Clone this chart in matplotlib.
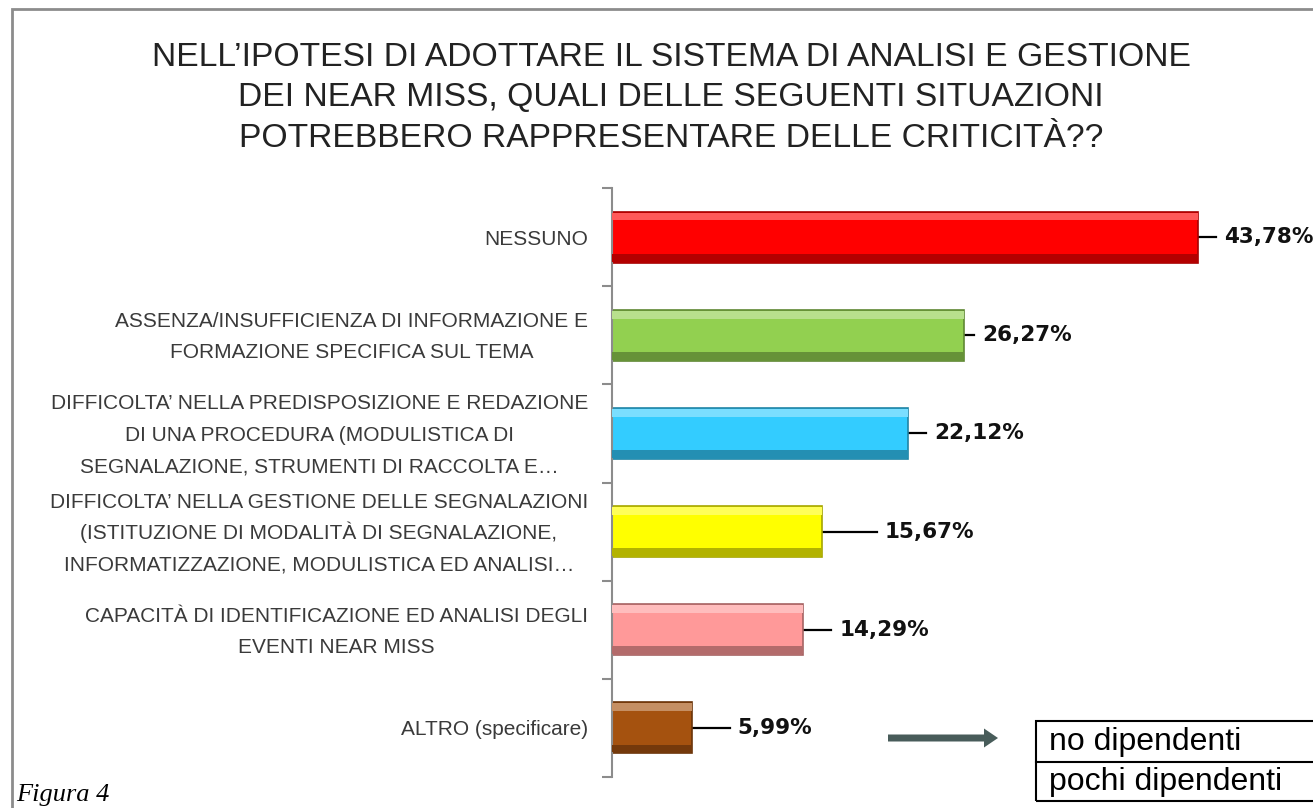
import matplotlib.pyplot as plt
import matplotlib.patches as mpatches
import matplotlib.colors as mcolors
import matplotlib.transforms as mtransforms
import numpy as np

# data
categories = [
    'NESSUNO',
    'ASSENZA/INSUFFICIENZA DI INFORMAZIONE E\nFORMAZIONE SPECIFICA SUL TEMA',
    'DIFFICOLTA\u2019 NELLA PREDISPOSIZIONE E REDAZIONE\nDI UNA PROCEDURA (MODULISTICA DI\nSEGNALAZIONE, STRUMENTI DI RACCOLTA E\u2026',
    'DIFFICOLTA\u2019 NELLA GESTIONE DELLE SEGNALAZIONI\n(ISTITUZIONE DI MODALIT\u00c0 DI SEGNALAZIONE,\nINFORMATIZZAZIONE, MODULISTICA ED ANALISI\u2026',
    'CAPACIT\u00c0 DI IDENTIFICAZIONE ED ANALISI DEGLI\nEVENTI NEAR MISS',
    'ALTRO (specificare)',
]
values = [43.78, 26.27, 22.12, 15.67, 14.29, 5.99]
bar_colors = ['#ff0000', '#92d050', '#33ccff', '#ffff00', '#ff9999', '#a5520f']
# leader-line length of each data label (Excel placed them by hand)
label_offsets = [1.9, 1.4, 1.95, 4.7, 2.7, 3.4]
table_rows = ['no dipendenti', 'pochi dipendenti']
title = ('NELL\u2019IPOTESI DI ADOTTARE IL SISTEMA DI ANALISI E GESTIONE\n'
         'DEI NEAR MISS, QUALI DELLE SEGUENTI SITUAZIONI\n'
         'POTREBBERO RAPPRESENTARE DELLE CRITICIT\u00c0??')

sans = ['Liberation Sans', 'DejaVu Sans']

W, H = 1313, 808
fig = plt.figure(figsize=(W / 100, H / 100), dpi=100)

# grey frame of the pasted chart (runs off the right and bottom edge)
fig.patches.append(mpatches.Rectangle((12 / W, -0.1), 1.2, 1 - 9 / H + 0.1,
                                      transform=fig.transFigure, fill=False,
                                      edgecolor='#8c8c8c', lw=2))

fig.text(671 / W, 1 - 98 / H, title, ha='center', va='center',
         fontsize=24.2, family=sans, linespacing=1.39, color='#222222')

ax = fig.add_axes([612 / W, 31 / H, 669.5 / W, 589 / H])
y = np.arange(len(values))

def shade(c, f):
    r = np.array(mcolors.to_rgb(c))
    if f > 0:
        return tuple(r + (1 - r) * f)
    return tuple(r * (1 + f))

h = 0.52
ax.barh(y, values, height=h, color=bar_colors,
        edgecolor=[shade(c, -0.35) for c in bar_colors], lw=1.2, zorder=2)
# bevel: light strip on top, dark strip at bottom
ax.barh(y - h / 2 + 0.05, values, height=0.08,
        color=[shade(c, 0.35) for c in bar_colors], lw=0, zorder=3)
ax.barh(y + h / 2 - 0.05, values, height=0.08,
        color=[shade(c, -0.3) for c in bar_colors], lw=0, zorder=3)

for yi, v, off in zip(y, values, label_offsets):
    ax.plot([v, v + off - 0.6], [yi, yi], color='black', lw=1.6, zorder=1)
    ax.text(v + off, yi, f'{v:.2f}%'.replace('.', ','), ha='left', va='center',
            fontsize=15.5, fontweight='bold', color='#111111')

ax.set_xlim(0, 50)
ax.set_ylim(len(values) - 0.5, -0.5)
ax.set_xticks([])
ax.set_yticks(y)
ax.set_yticklabels([])
ax.tick_params(axis='y', which='major', length=0)
ax.set_yticks(np.arange(len(values) + 1) - 0.5, minor=True)
ax.tick_params(axis='y', which='minor', length=7, width=1.5, color='#8c8c8c')
for s in ['top', 'right', 'bottom']:
    ax.spines[s].set_visible(False)
ax.spines['left'].set_color('#8c8c8c')
ax.spines['left'].set_linewidth(1.5)

# category labels: one text per line so accented lines keep even spacing,
# each block centred and right-aligned next to the axis
renderer = fig.canvas.get_renderer()
line_step = 31.5
for yi, cat in zip(y, categories):
    lines = cat.split('\n')
    n = len(lines)
    texts = []
    for j, ln in enumerate(lines):
        dy = ((n - 1) / 2 - j) * line_step - 7.5
        tr = mtransforms.offset_copy(ax.get_yaxis_transform(), fig=fig,
                                     x=0, y=dy, units='dots')
        texts.append(ax.text(0, yi, ln, ha='center', va='baseline', fontsize=15,
                             family=sans, color='#3a3a3a', transform=tr))
    block_w = max(t.get_window_extent(renderer).width for t in texts)
    for t in texts:
        tr = mtransforms.offset_copy(t.get_transform(), fig=fig,
                                     x=-24 - block_w / 2, y=0, units='dots')
        t.set_transform(tr)

# arrow and small table on the right
fig.patches.append(mpatches.FancyArrow(888 / W, 1 - 738 / H, 96 / W, 0,
                                       width=7 / H, head_width=19 / H,
                                       head_length=14 / W, length_includes_head=False,
                                       transform=fig.transFigure,
                                       color='#485c5a', lw=0))
fig.patches.append(mpatches.Rectangle((1036 / W, 1 - 801 / H), 0.3, 80 / H,
                                      transform=fig.transFigure, fill=False,
                                      edgecolor='black', lw=1.5))
fig.lines.append(plt.Line2D([1036 / W, 1.1], [1 - 762 / H] * 2,
                            transform=fig.transFigure, color='black', lw=1.5))
for i, t in enumerate(table_rows):
    fig.text(1049 / W, 1 - (742 + 40 * i) / H, t, ha='left', va='center',
             fontsize=23, family=sans, color='black')

fig.text(16 / W, 2 / H, 'Figura 4', ha='left', va='bottom', fontsize=19,
         family=['Liberation Serif', 'DejaVu Serif'], style='italic', color='black')

fig.savefig('out.png', dpi=100)
